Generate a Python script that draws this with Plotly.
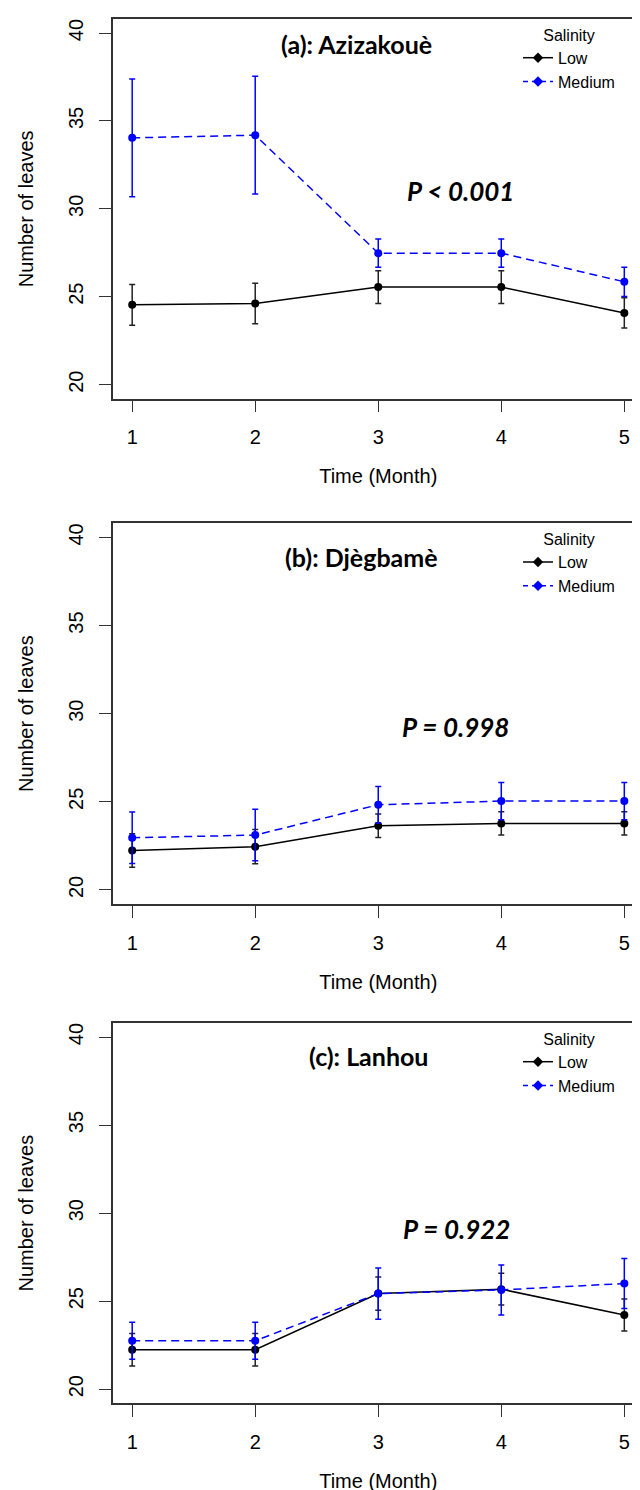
import plotly.graph_objects as go

months = [1, 2, 3, 4, 5]
panels = ["(a): Azizakouè", "(b): Djègbamè", "(c): Lanhou"]
p_labels = ["P < 0.001", "P = 0.998", "P = 0.922"]

# Panel (a) Azizakouè
a_low = [24.54, 24.62, 25.55, 25.55, 24.08]
a_low_err = [1.16, 1.15, 0.93, 0.93, 0.86]
a_med = [34.04, 34.19, 27.48, 27.48, 25.85]
a_med_err = [3.35, 3.35, 0.80, 0.80, 0.83]

# Panel (b) Djègbamè
b_low = [22.24, 22.45, 23.64, 23.77, 23.77]
b_low_err = [0.95, 0.97, 0.66, 0.66, 0.66]
b_med = [22.96, 23.11, 24.83, 25.04, 25.04]
b_med_err = [1.46, 1.46, 1.04, 1.06, 1.06]

# Panel (c) Lanhou
c_low = [22.24, 22.24, 25.43, 25.68, 24.22]
c_low_err = [0.92, 0.92, 0.94, 0.90, 0.91]
c_med = [22.75, 22.75, 25.43, 25.64, 26.00]
c_med_err = [1.05, 1.05, 1.45, 1.42, 1.42]

title_pos = [(2.82, 39.36), (2.86, 38.86), (2.92, 38.9)]
p_pos = [(3.67, 31.0), (3.63, 29.25), (3.64, 29.1)]

data = [
    (a_low, a_low_err, a_med, a_med_err),
    (b_low, b_low_err, b_med, b_med_err),
    (c_low, c_low_err, c_med, c_med_err),
]

W, H = 640, 1490
box_top = [11, 515.3, 1015]
box_bot = [390.7, 896, 1395.3]
x_dom = [104.5 / W, 636 / W]

AX_FONT = dict(family="Liberation Sans, Arial, sans-serif", size=20, color="black")
LEG_FONT = dict(family="Liberation Sans, Arial, sans-serif", size=16, color="black")
TXT_FONT = "Lato, Noto Sans, sans-serif"
BLUE = "#0000FF"

fig = go.Figure()
annotations = []
layout = {}

for i in range(3):
    sfx = "" if i == 0 else str(i + 1)
    xa, ya = "x" + sfx, "y" + sfx
    leg = "legend" + sfx
    low, low_err, med, med_err = data[i]

    fig.add_trace(go.Scatter(
        x=months, y=low, mode="lines+markers", name="Low",
        xaxis=xa, yaxis=ya, showlegend=False,
        line=dict(color="black", width=1.5),
        marker=dict(color="black", size=8, symbol="circle"),
        error_y=dict(type="data", array=low_err, visible=True,
                     color="#222222", thickness=1.5, width=3),
    ))
    fig.add_trace(go.Scatter(
        x=months, y=med, mode="lines+markers", name="Medium",
        xaxis=xa, yaxis=ya, showlegend=False,
        line=dict(color=BLUE, width=1.5, dash="8px,5px"),
        marker=dict(color=BLUE, size=8, symbol="circle"),
        error_y=dict(type="data", array=med_err, visible=True,
                     color=BLUE, thickness=1.5, width=3),
    ))
    # legend keys (diamond symbols, as in the R legend)
    fig.add_trace(go.Scatter(
        x=[None], y=[None], mode="lines+markers", name="Low",
        xaxis=xa, yaxis=ya, legend=leg,
        line=dict(color="black", width=1.5),
        marker=dict(color="black", size=8, symbol="diamond"),
    ))
    fig.add_trace(go.Scatter(
        x=[None], y=[None], mode="lines+markers", name="Medium",
        xaxis=xa, yaxis=ya, legend=leg,
        line=dict(color=BLUE, width=1.5, dash="5px,4px"),
        marker=dict(color=BLUE, size=8, symbol="diamond"),
    ))

    y_dom = [1 - box_bot[i] / H, 1 - box_top[i] / H]
    layout["xaxis" + sfx] = dict(
        domain=x_dom, anchor=ya, range=[0.84, 5.16],
        tickvals=months, ticktext=[str(m) for m in months],
        ticks="outside", ticklen=12, tickwidth=1, tickcolor="#333333",
        showline=True, mirror=True, linecolor="#333333", linewidth=1.5,
        showgrid=False, zeroline=False, tickfont=AX_FONT,
        ticklabelstandoff=8,
        title=dict(text="Time (Month)", font=AX_FONT, standoff=22),
    )
    layout["yaxis" + sfx] = dict(
        domain=y_dom, anchor=xa, range=[19.2, 40.8],
        tickvals=[20, 25, 30, 35, 40],
        ticks="outside", ticklen=12, tickwidth=1, tickcolor="#333333",
        showline=True, mirror=True, linecolor="#333333", linewidth=1.5,
        showgrid=False, zeroline=False, tickfont=AX_FONT, tickangle=-90,
        ticklabelstandoff=8,
        title=dict(text="Number of leaves", font=AX_FONT, standoff=26),
    )
    layout[leg] = dict(
        x=510 / W, xanchor="left",
        y=1 - (box_top[i] + 1) / H, yanchor="top",
        bgcolor="rgba(0,0,0,0)", borderwidth=0,
        font=LEG_FONT,
        title=dict(text="Salinity", side="top center", font=LEG_FONT),
        tracegroupgap=0, itemwidth=30,
    )
    annotations.append(dict(
        x=title_pos[i][0], y=title_pos[i][1], xref=xa, yref=ya,
        text="<b>" + panels[i] + "</b>", showarrow=False,
        font=dict(family=TXT_FONT, size=25, color="black"),
    ))
    annotations.append(dict(
        x=p_pos[i][0], y=p_pos[i][1], xref=xa, yref=ya,
        text="<b><i>" + p_labels[i] + "</i></b>", showarrow=False,
        font=dict(family=TXT_FONT, size=26, color="black"),
    ))

fig.update_layout(
    width=W, height=H,
    margin=dict(l=0, r=0, t=0, b=0, autoexpand=False),
    paper_bgcolor="white", plot_bgcolor="white",
    annotations=annotations,
    **layout,
)

fig.write_html("out.html")
